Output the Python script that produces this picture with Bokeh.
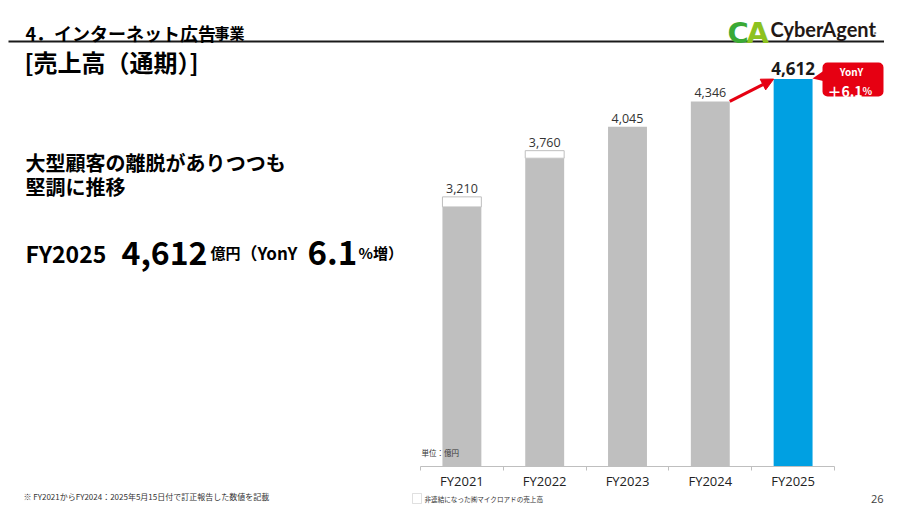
from bokeh.plotting import figure
from bokeh.models import Range1d, FixedTicker, Label, Arrow, NormalHead, BoxAnnotation, ColumnDataSource
from bokeh.embed import file_html
from bokeh.resources import INLINE
from bokeh.core.properties import value

# ---- data ----
years = ["FY2021", "FY2022", "FY2023", "FY2024", "FY2025"]
totals = [3210, 3760, 4045, 4346, 4612]          # 売上高（億円）
core = [3090, 3670, 4045, 4346, 4612]            # excluding MicroAd
microad = [120, 90, 0, 0, 0]                     # 非連結になった㈱マイクロアドの売上高
yony_pct = 6.1

# ---- layout constants ----
W, H = 884, 506
PX_PER_CAT = 82.8
PX_PER_VAL = 0.084
AX_LEFT = 420   # canvas x of axis start
BASE = 466      # canvas y of axis baseline
JP = "Noto Sans CJK JP"
GRAY = "#BFBFBF"
BLUE = "#00A0E2"
RED = "#E60012"


def X(px):
    return (px - AX_LEFT) / PX_PER_CAT


def Y(py):
    return (BASE - py) / PX_PER_VAL


p = figure(width=W, height=H, output_backend="svg", toolbar_location=None,
           x_range=Range1d(X(0), X(W)), y_range=Range1d(Y(H), Y(0)),
           y_axis_location=None, x_axis_location="below",
           min_border_left=0, min_border_right=0, min_border_top=0,
           min_border_bottom=0)
p.outline_line_color = None
p.xgrid.visible = False
p.ygrid.visible = False
p.background_fill_color = "white"

centers = [i + 0.5 for i in range(len(years))]
bar_w = 0.47
colors = [GRAY] * (len(years) - 1) + [BLUE]

src = ColumnDataSource(dict(x=centers, core=core, color=colors))
p.vbar(x="x", top="core", bottom=0, width=bar_w, fill_color="color",
       line_color=None, source=src)

idx = [i for i, m in enumerate(microad) if m > 0]
src2 = ColumnDataSource(dict(x=[centers[i] for i in idx],
                             bottom=[core[i] for i in idx],
                             top=[totals[i] for i in idx]))
p.vbar(x="x", top="top", bottom="bottom", width=bar_w, fill_color="white",
       line_color=GRAY, line_width=1, source=src2)

# value labels
labels = [f"{v:,}" for v in totals]
p.text(x=centers[:-1], y=totals[:-1], text=labels[:-1], y_offset=-4,
       text_align="center", text_baseline="bottom",
       text_font=value("Open Sans"), text_font_size="12.5px", text_color="#333333")
p.text(x=centers[-1:], y=totals[-1:], text=labels[-1:], y_offset=-4,
       text_align="center", text_baseline="bottom",
       text_font=value("Open Sans"), text_font_size="17px",
       text_font_style="bold", text_color="#1a1a1a")

# axis (drawn at value 0 inside the frame)
ax = p.xaxis[0]
ax.fixed_location = 0
ax.ticker = FixedTicker(ticks=centers, minor_ticks=list(range(len(years) + 1)))
ax.major_label_overrides = {c: y for c, y in zip(centers, years)}
ax.bounds = (0, len(years))
ax.major_tick_line_color = None
ax.major_tick_out = 0
ax.minor_tick_line_color = GRAY
ax.minor_tick_in = 0
ax.minor_tick_out = 4
ax.axis_line_color = GRAY
ax.major_label_standoff = 1
ax.major_label_text_font = "Open Sans"
ax.major_label_text_font_size = "13px"
ax.major_label_text_color = "#222222"

# arrow FY2024 -> FY2025
p.add_layout(Arrow(end=NormalHead(size=12, fill_color=RED, line_color=RED),
                   x_start=centers[3] + bar_w / 2, y_start=totals[3],
                   x_end=centers[4] - bar_w / 2, y_end=totals[4],
                   line_color=RED, line_width=3))

# callout
p.add_layout(BoxAnnotation(left=X(822), right=X(883), top=Y(62), bottom=Y(96),
                           fill_color=RED, fill_alpha=1, line_color=None,
                           border_radius=5))
p.patch(x=[X(812), X(825), X(825)], y=[Y(78), Y(69), Y(81)],
        fill_color=RED, line_color=None)


def lab(text, px, py, size, bold=False, color="#000000", font=JP,
        align="left", baseline="alphabetic"):
    p.add_layout(Label(x=X(px), y=Y(py), text=text, text_font=font,
                       text_font_size=f"{size}px",
                       text_font_style="bold" if bold else "normal",
                       text_color=color, text_align=align,
                       text_baseline=baseline))


lab("YonY", 851, 71, 10, bold=True, color="white", align="center", baseline="middle")
lab(f"＋{yony_pct}", 862, 90, 14, bold=True, color="white", align="right")
lab("%", 862, 90, 10, bold=True, color="white")

# header
lab("4．インターネット広告", 25, 32, 18, bold=True)
lab("事業", 214, 32, 15, bold=True)
p.segment(x0=[X(8)], y0=[Y(41)], x1=[X(884)], y1=[Y(41)], line_color="#1a1a1a", line_width=2)
lab("[売上高（通期）]", 24, 61, 24, bold=True, baseline="middle")

# logo
lab("C", 727, 32, 29, bold=True, color="#3AA935", font="DejaVu Sans")
lab("A", 746, 32, 29, bold=True, color="#8DC21F", font="DejaVu Sans")
lab("CyberAgent", 770, 28, 20, bold=True, color="#231815", font="Lato")
lab(".", 873, 28, 14, bold=True, color="#888888", font="Lato")

# left message
lab("大型顧客の離脱がありつつも", 25, 162, 20, bold=True, baseline="middle")
lab("堅調に推移", 25, 186, 20, bold=True, baseline="middle")
lab(years[-1], 25, 252, 23, bold=True)
lab(f"{totals[-1]:,}", 121, 252, 32, bold=True)
lab("億円", 210, 252, 15, bold=True)
lab("（YonY", 240, 252, 17, bold=True)
lab(f"{yony_pct}", 307, 252, 33, bold=True)
lab("%増）", 358, 252, 15, bold=True)

# notes
lab("単位：億円", 421, 452, 7.5, color="#333333", baseline="middle")
lab("※ FY2021からFY2024：2025年5月15日付で訂正報告した数値を記載", 23, 496, 8,
    color="#333333", baseline="middle")
p.add_layout(BoxAnnotation(left=X(412), right=X(421), top=Y(493), bottom=Y(503),
                           fill_color="white", fill_alpha=1, line_color="#999999",
                           line_width=1))
lab("非連結になった㈱マイクロアドの売上高", 424, 498, 6.6, color="#333333", baseline="middle")
lab("26", 883, 498, 11, color="#404040", font="Open Sans", align="right")

open("out.html", "w").write(file_html(p, INLINE))
